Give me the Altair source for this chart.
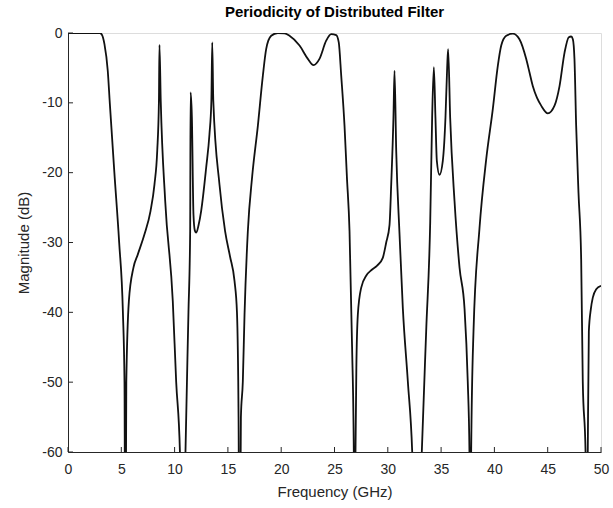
import altair as alt
import pandas as pd

freq = [0, 1.5, 3.0, 3.2, 3.42, 3.73, 3.92, 4.35, 4.8, 5.15, 5.3, 5.38, 5.47, 5.71, 6.14, 6.55,
        7.18, 7.74, 8.11, 8.37, 8.53, 8.58, 8.7, 9.12, 9.83, 10.15, 10.5, 10.75, 11.02, 11.3,
        11.46, 11.5, 11.62, 11.77, 11.9, 12.03, 12.25, 12.49, 12.96, 13.27, 13.45, 13.53, 13.63,
        14.21, 14.74, 15.2, 15.62, 15.85, 16.0, 16.1, 16.22, 16.4, 16.56, 16.87, 17.28, 17.81,
        18.28, 18.59, 19.06, 19.68, 20.3, 20.78, 21.72, 22.5, 23.03, 23.59, 24.22, 24.69, 25.16,
        25.4, 25.63, 25.94, 26.16, 26.41, 26.65, 26.81, 26.88, 26.97, 27.05, 27.19, 27.5, 28.0,
        28.5, 29.0, 29.53, 29.85, 30.16, 30.32, 30.53, 30.63, 30.79, 31.1, 31.41, 31.88, 32.29,
        32.7, 33.19, 33.6, 33.98, 34.16, 34.32, 34.47, 34.6, 34.85, 35.16, 35.41, 35.57, 35.66,
        35.85, 36.26, 36.73, 37.2, 37.5, 37.66, 37.74, 37.82, 38.04, 38.6, 39.23, 39.85, 40.32,
        40.64, 41.11, 41.73, 42.35, 42.98, 43.3, 43.6, 44.0, 44.39, 45.01, 45.64, 46.11, 46.58,
        46.98, 47.2, 47.36, 47.51, 47.67, 47.89, 48.14, 48.29, 48.55, 48.65, 48.76, 48.86, 49.05,
        49.23, 49.55, 50.0]
mag = [0, 0, 0, -0.3, -1.6, -5.4, -10, -20, -30, -40, -50, -85, -50, -38.4, -33.6, -31.7,
       -28.8, -25.5, -21.7, -16.9, -9.7, -1.7, -9.7, -24.1, -38.4, -50, -60, -85, -60, -40,
       -28.4, -8.5, -12, -26.0, -28.3, -28.6, -27.5, -25.5, -19.3, -14.5, -9.7, -1.35, -9.7,
       -21.7, -28.4, -32, -35.5, -40, -55, -85, -55, -49.9, -40.3, -28.4, -20.5, -13.3,
       -6.1, -2.3, -0.4, 0, -0.05, -0.4, -1.8, -3.7, -4.6, -3.7, -1.1, -0.15, -0.3,
       -1.35, -6.1, -13.3, -20.5, -28.4, -45, -60, -85, -60, -48, -40.3, -36.5, -34.7,
       -33.9, -33.3, -32.2, -30.0, -27.5, -21.7, -12.1, -5.4, -16.9, -28.8, -39.4, -49.9, -60,
       -85, -60, -42.7, -27, -12.1, -4.9, -12.1, -18.3, -20.3, -18.3, -12.1, -4.9, -2.3,
       -12.1, -24.1, -33.6, -39.5, -49.9, -60, -85, -60, -42.7, -28, -18.1, -10.9, -4.7,
       -1.8, -0.4, -0.1, -0.9, -3.7, -5.7, -7.6, -9.3, -10.4, -11.5, -10.4, -7.6, -2.8,
       -0.6, -0.5, -0.9, -3.7, -13.3, -22.9, -32.4, -49.9, -60, -85, -60, -42.7, -39.5,
       -37.9, -36.7, -36.2]

x_ticks = [0, 5, 10, 15, 20, 25, 30, 35, 40, 45, 50]
y_ticks = [-60, -50, -40, -30, -20, -10, 0]

FONT = "Liberation Sans"
W, H = 533, 419

df = pd.DataFrame({"f": freq, "m": mag})
xt = pd.DataFrame({"t": x_ticks})
yt = pd.DataFrame({"t": y_ticks})

xscale = alt.Scale(domain=[0, 50], nice=False, zero=False)
yscale = alt.Scale(domain=[-60, 0], nice=False, zero=False)

LBL = "replace(datum.label, '\u2212', '-')"

line = alt.Chart(df).mark_line(
    color="#111111", strokeWidth=1.8, interpolate="monotone", clip=True
).encode(
    x=alt.X("f:Q", scale=xscale,
            axis=alt.Axis(title="Frequency (GHz)", values=x_ticks, format="d", labelExpr=LBL,
                          tickSize=0, labelPadding=10, titlePadding=8, labelFlush=False,
                          grid=False, domainColor="#262626", labelColor="#262626",
                          titleColor="#262626", labelFontSize=14, titleFontSize=15,
                          labelFont=FONT, titleFont=FONT, titleFontWeight="normal")),
    y=alt.Y("m:Q", scale=yscale,
            axis=alt.Axis(title="Magnitude (dB)", values=y_ticks, format="d", labelExpr=LBL,
                          tickSize=0, labelPadding=6, titlePadding=10, labelFlush=False,
                          grid=False, domainColor="#262626", labelColor="#262626",
                          titleColor="#262626", labelFontSize=14, titleFontSize=15,
                          labelFont=FONT, titleFont=FONT, titleFontWeight="normal")),
)

xtick_rules = alt.Chart(xt).mark_rule(color="#262626", strokeWidth=1).encode(
    x=alt.X("t:Q", scale=xscale), y=alt.value(H), y2=alt.value(H - 5)
)
ytick_rules = alt.Chart(yt).mark_rule(color="#262626", strokeWidth=1).encode(
    y=alt.Y("t:Q", scale=yscale), x=alt.value(0), x2=alt.value(5)
)

chart = alt.layer(line, xtick_rules, ytick_rules).properties(
    width=W, height=H,
    title=alt.Title("Periodicity of Distributed Filter", font=FONT, fontSize=15,
                    fontWeight="bold", color="#000000", offset=6),
    autosize=alt.AutoSizeParams(type="none"),
    padding={"left": 68, "top": 33, "right": 12, "bottom": 56},
).configure_view(stroke=None).configure(background="white")

chart.save("out.html", embed_options={"renderer": "svg", "actions": False})
